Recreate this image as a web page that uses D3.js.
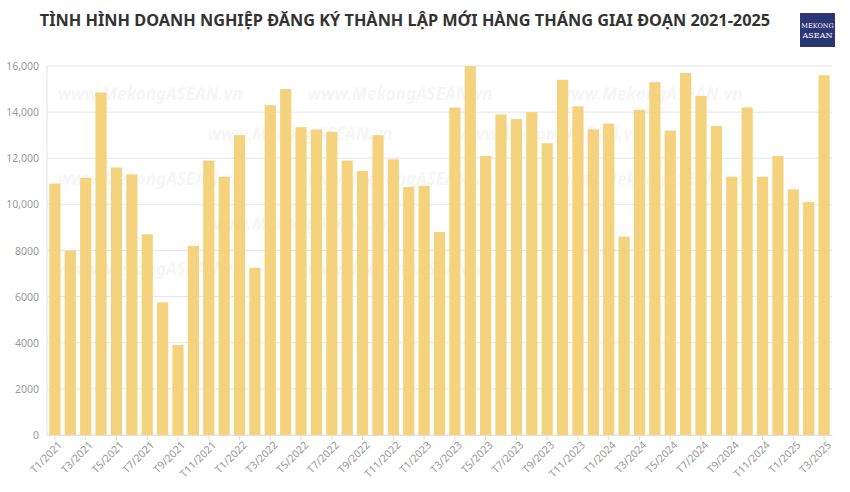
<!DOCTYPE html>
<html>
<head>
<meta charset="utf-8">
<script src="https://cdn.jsdelivr.net/npm/d3@7"></script>
<style>
  body { margin: 0; background: #fff; font-family: "Noto Sans", "Open Sans", sans-serif; }
</style>
</head>
<body>
<svg id="chart"></svg>
<script>
const width = 850, height = 492;

const years = [2021, 2022, 2023, 2024, 2025];
const v2021 = [10900, 8000, 11150, 14850, 11600, 11300, 8700, 5750, 3900, 8200, 11900, 11200];
const v2022 = [13000, 7250, 14300, 15000, 13350, 13250, 13150, 11900, 11450, 13000, 11950, 10750];
const v2023 = [10800, 8800, 14200, 16000, 12100, 13900, 13700, 14000, 12650, 15400, 14250, 13250];
const v2024 = [13500, 8600, 14100, 15300, 13200, 15700, 14700, 13400, 11200, 14200, 11200, 12100];
const v2025 = [10650, 10100, 15600];
const yTicks = [0, 2000, 4000, 6000, 8000, 10000, 12000, 14000, 16000];

const data = [];
[v2021, v2022, v2023, v2024, v2025].forEach((arr, yi) => {
  arr.forEach((v, m) => data.push({ label: `T${m + 1}/${years[yi]}`, value: v }));
});

const margin = { top: 66, right: 18, bottom: 57, left: 47 };
const svg = d3.select('#chart').attr('width', width).attr('height', height);

const x = d3.scaleBand()
  .domain(data.map(d => d.label))
  .range([margin.left, width - margin.right])
  .paddingInner(0.27)
  .paddingOuter(0.15);

const y = d3.scaleLinear()
  .domain([0, 16000])
  .range([height - margin.bottom, margin.top]);

// title
svg.append('text')
  .attr('x', 405).attr('y', 26)
  .attr('text-anchor', 'middle')
  .attr('font-size', 16.3)
  .attr('font-weight', 700)
  .attr('fill', '#333')
  .text('TÌNH HÌNH DOANH NGHIỆP ĐĂNG KÝ THÀNH LẬP MỚI HÀNG THÁNG GIAI ĐOẠN 2021-2025');

// logo
const logo = svg.append('g').attr('transform', 'translate(800,13)');
logo.append('rect').attr('width', 35).attr('height', 34).attr('fill', '#2b3674');
logo.append('text').attr('x', 17.5).attr('y', 15).attr('text-anchor', 'middle')
  .attr('font-family', 'DejaVu Serif, serif').attr('font-size', 6.5).attr('fill', '#fff').text('MEKONG');
logo.append('text').attr('x', 17.5).attr('y', 25).attr('text-anchor', 'middle')
  .attr('font-family', 'DejaVu Serif, serif').attr('font-size', 8).attr('fill', '#fff').text('ASEAN');

// grid
svg.append('g').selectAll('line')
  .data(yTicks).enter().append('line')
  .attr('x1', margin.left).attr('x2', width - margin.right)
  .attr('y1', d => y(d)).attr('y2', d => y(d))
  .attr('stroke', '#e6e6e6');

svg.append('line')
  .attr('x1', margin.left).attr('x2', margin.left)
  .attr('y1', margin.top).attr('y2', y(0))
  .attr('stroke', '#e0e0e0');

// watermark
const marks = [[150, 100], [400, 100], [650, 100], [300, 140], [550, 140], [150, 185], [400, 185], [650, 185], [300, 230], [150, 275], [400, 275]];
svg.append('g').selectAll('text')
  .data(marks).enter().append('text')
  .attr('x', d => d[0]).attr('y', d => d[1])
  .attr('text-anchor', 'middle')
  .attr('font-size', 17).attr('font-style', 'italic').attr('font-weight', 700)
  .attr('fill', '#000').attr('opacity', 0.03)
  .text('www.MekongASEAN.vn');

// bars
svg.append('g').selectAll('rect')
  .data(data).enter().append('rect')
  .attr('x', d => x(d.label))
  .attr('y', d => y(d.value))
  .attr('width', x.bandwidth())
  .attr('height', d => y(0) - y(d.value))
  .attr('fill', '#f5d27e');

// y axis
const fmt = d => d >= 10000 ? d3.format(',')(d) : String(d);
svg.append('g').selectAll('text')
  .data(yTicks).enter().append('text')
  .attr('x', margin.left - 8).attr('y', d => y(d) + 4)
  .attr('text-anchor', 'end')
  .attr('font-size', 10.5).attr('fill', '#999')
  .text(fmt);

// x axis
const xAxis = svg.append('g')
  .attr('transform', `translate(0,${y(0)})`)
  .call(d3.axisBottom(x)
    .tickValues(data.filter((d, i) => i % 2 === 0).map(d => d.label))
    .tickSize(5).tickSizeOuter(0));
xAxis.select('.domain').attr('stroke', '#e0e0e0');
xAxis.selectAll('.tick line').attr('stroke', '#ddd');
xAxis.selectAll('.tick text')
  .attr('font-size', 10.5).attr('fill', '#999')
  .attr('font-family', 'Noto Sans, sans-serif')
  .attr('text-anchor', 'end')
  .attr('dx', '-0.2em').attr('dy', '0.5em')
  .attr('transform', 'rotate(-45)');
</script>
</body>
</html>
